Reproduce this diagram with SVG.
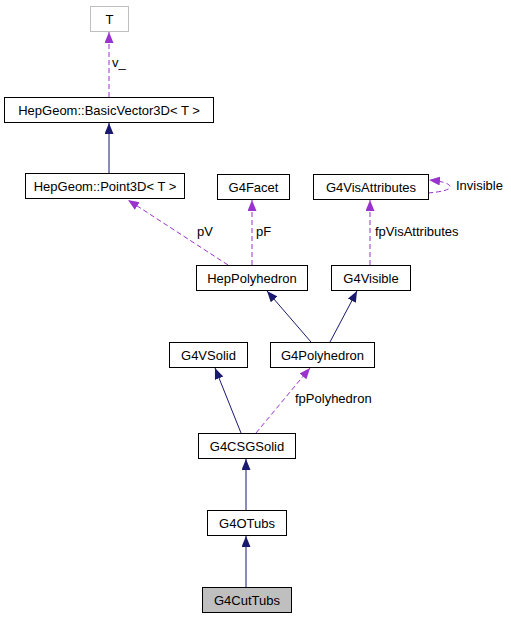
<svg xmlns="http://www.w3.org/2000/svg" width="511" height="619" viewBox="0 0 511 619">
<style>
.n rect{fill:#fff;stroke:#000;stroke-width:1}
.n text,.l{font-family:"Liberation Sans",Arial,sans-serif;font-size:13px;fill:#000}
.n text{text-anchor:middle}
.i{fill:none;stroke:#191970;stroke-width:1}
.d{fill:none;stroke:#9a32cd;stroke-width:1;stroke-dasharray:5,3}
</style>
<defs>
<marker id="an" markerUnits="userSpaceOnUse" markerWidth="12" markerHeight="10" refX="11" refY="4.5" orient="auto"><path d="M0,0 L11,4.5 L0,9 z" fill="#191970"/></marker>
<marker id="ap" markerUnits="userSpaceOnUse" markerWidth="12" markerHeight="10" refX="11" refY="4.5" orient="auto"><path d="M0,0 L11,4.5 L0,9 z" fill="#9a32cd"/></marker>
</defs>
<rect width="511" height="619" fill="#fff"/>
<g id="edges">
<path class="d" d="M109,97 L109,32" marker-end="url(#ap)"/>
<text class="l" x="112" y="67">v_</text>
<path class="i" d="M109,173 L109,123" marker-end="url(#an)"/>
<path class="d" d="M228,265 L128,200" marker-end="url(#ap)"/>
<text class="l" x="197" y="236">pV</text>
<path class="d" d="M252,265 L252,200" marker-end="url(#ap)"/>
<text class="l" x="256" y="236">pF</text>
<path class="d" d="M370,265 L370,200" marker-end="url(#ap)"/>
<text class="l" x="375" y="236">fpVisAttributes</text>
<path class="d" d="M428,193 C440,192 450,190 450,187 C450,183 440,181 429,180" marker-end="url(#ap)"/>
<text class="l" x="456" y="190">Invisible</text>
<path class="i" d="M311,342 L267,291" marker-end="url(#an)"/>
<path class="i" d="M330,342 L357,291" marker-end="url(#an)"/>
<path class="i" d="M241,433 L215,368" marker-end="url(#an)"/>
<path class="d" d="M256,433 L310,368" marker-end="url(#ap)"/>
<text class="l" x="295" y="403">fpPolyhedron</text>
<path class="i" d="M246,510 L246,459" marker-end="url(#an)"/>
<path class="i" d="M246,587 L246,536" marker-end="url(#an)"/>
</g>
<g id="T" class="n"><rect x="90.5" y="6.5" width="38" height="25" style="stroke:#bfbfbf"/><text x="109.5" y="23.5">T</text></g>
<g id="BasicVector3D" class="n"><rect x="4.5" y="97.5" width="209" height="25"/><text x="109" y="114.5">HepGeom::BasicVector3D&lt; T &gt;</text></g>
<g id="Point3D" class="n"><rect x="25.5" y="173.5" width="159" height="25"/><text x="105" y="190.5">HepGeom::Point3D&lt; T &gt;</text></g>
<g id="G4Facet" class="n"><rect x="217.5" y="174.5" width="72" height="25"/><text x="253.5" y="191.5">G4Facet</text></g>
<g id="G4VisAttributes" class="n"><rect x="313.5" y="174.5" width="115" height="25"/><text x="371" y="191.5">G4VisAttributes</text></g>
<g id="HepPolyhedron" class="n"><rect x="196.5" y="265.5" width="111" height="25"/><text x="252" y="282.5">HepPolyhedron</text></g>
<g id="G4Visible" class="n"><rect x="331.5" y="265.5" width="79" height="25"/><text x="371" y="282.5">G4Visible</text></g>
<g id="G4VSolid" class="n"><rect x="169.5" y="342.5" width="78" height="25"/><text x="208.5" y="359.5">G4VSolid</text></g>
<g id="G4Polyhedron" class="n"><rect x="270.5" y="342.5" width="104" height="25"/><text x="322.5" y="359.5">G4Polyhedron</text></g>
<g id="G4CSGSolid" class="n"><rect x="198.5" y="433.5" width="97" height="25"/><text x="247" y="450.5">G4CSGSolid</text></g>
<g id="G4OTubs" class="n"><rect x="207.5" y="510.5" width="79" height="25"/><text x="247" y="527.5">G4OTubs</text></g>
<g id="G4CutTubs" class="n"><rect x="202.5" y="587.5" width="89" height="25" style="fill:#bfbfbf"/><text x="247" y="604.5">G4CutTubs</text></g>
</svg>
